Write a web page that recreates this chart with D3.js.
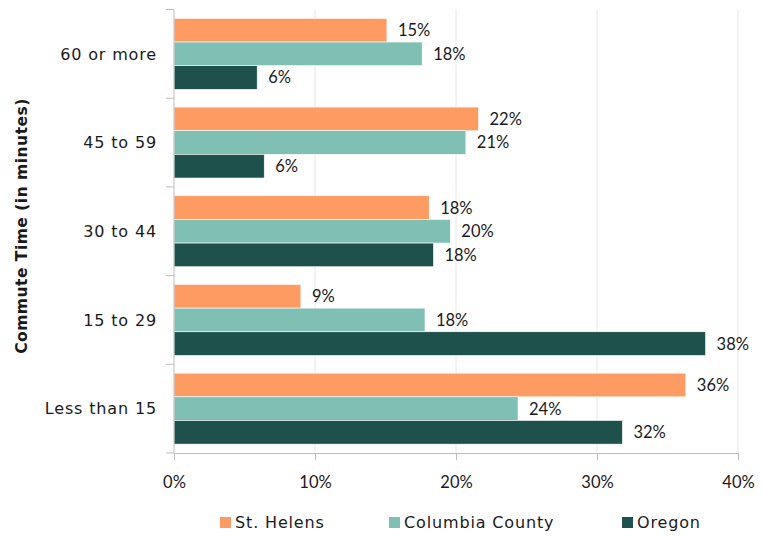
<!DOCTYPE html>
<html><head><meta charset="utf-8">
<script src="https://cdn.jsdelivr.net/npm/d3@7"></script>
<style>body{margin:0;background:#fff;font-family:Lato,"Noto Sans",sans-serif;}</style>
</head><body><svg id="c" width="763" height="537"></svg>
<script>
const categories = ["60 or more","45 to 59","30 to 44","15 to 29","Less than 15"];
const seriesNames = ["St. Helens","Columbia County","Oregon"];
const stHelens = [15.1, 21.6, 18.1, 9.0, 36.3];
const columbia = [17.6, 20.7, 19.6, 17.8, 24.4];
const oregon = [5.9, 6.4, 18.4, 37.7, 31.8];
const labelsSH = ["15%","22%","18%","9%","36%"];
const labelsCC = ["18%","21%","20%","18%","24%"];
const labelsOR = ["6%","6%","18%","38%","32%"];
const xTicks = [0,10,20,30,40];
const colors = ["#fe9b62","#80bfb4","#1e514c"];

const textFont = "'DejaVu Sans',sans-serif";
const numFont = "Lato,'Noto Sans',sans-serif";
const series = [stHelens, columbia, oregon];
const labels = [labelsSH, labelsCC, labelsOR];
const svg = d3.select("#c");
const x = d3.scaleLinear().domain([0,40]).range([174,738]);
const y = d3.scaleBand().domain(categories).range([9.5,453]).paddingInner(0.2).paddingOuter(0.1);
const y1 = d3.scaleBand().domain(d3.range(3)).range([0,y.bandwidth()]);
const step = y.step();

// gridlines
svg.append("g").selectAll("line").data(xTicks.slice(1)).join("line")
  .attr("x1",d=>x(d)).attr("x2",d=>x(d)).attr("y1",9.5).attr("y2",453)
  .attr("stroke","#e6e6e6").attr("stroke-width",1);

// bars
series.forEach((vals,si)=>{
  const g = svg.append("g");
  g.selectAll("rect").data(vals).join("rect")
    .attr("x",x(0)).attr("y",(d,i)=>y(categories[i])+y1(si))
    .attr("width",d=>x(d)-x(0)).attr("height",y1.bandwidth())
    .attr("fill",colors[si]).attr("stroke","#fff").attr("stroke-width",0.6);
  g.selectAll("text").data(vals).join("text")
    .attr("x",d=>x(d)+11).attr("y",(d,i)=>y(categories[i])+y1(si)+y1.bandwidth()/2)
    .attr("dy","0.36em").attr("font-size",16.5).attr("font-family",numFont).attr("fill","#1a1a1a")
    .text((d,i)=>labels[si][i]);
});

// y axis
const ya = svg.append("g");
ya.append("line").attr("x1",174).attr("x2",174).attr("y1",9.5).attr("y2",453).attr("stroke","#bdbdbd");
const bounds = categories.map(c=>y(c)-step*0.1).concat([453]);
ya.selectAll("line.t").data(bounds).join("line").attr("class","t")
  .attr("x1",166).attr("x2",174).attr("y1",d=>d).attr("y2",d=>d).attr("stroke","#bdbdbd");
ya.selectAll("text").data(categories).join("text")
  .attr("x",157).attr("y",d=>y(d)+y.bandwidth()/2).attr("dy","0.36em")
  .attr("text-anchor","end").attr("font-size",16).attr("letter-spacing",0.85)
  .attr("font-family",textFont).attr("fill","#1a1a1a").text(d=>d);

// x axis
const xa = svg.append("g").attr("transform","translate(0,453)");
xa.call(d3.axisBottom(x).tickValues(xTicks).tickFormat(d=>d+"%").tickSize(7).tickPadding(16));
xa.select(".domain").attr("stroke","#bdbdbd");
xa.selectAll(".tick line").attr("stroke","#bdbdbd");
xa.selectAll("text").attr("font-size",16.5).attr("fill","#1a1a1a").attr("font-family",numFont);

// axis title
svg.append("text").attr("transform","translate(21,226) rotate(-90)")
  .attr("text-anchor","middle").attr("dy","0.36em").attr("font-size",15.5).attr("font-weight","bold")
  .attr("letter-spacing",0.5).attr("font-family",textFont).attr("fill","#1a1a1a")
  .text("Commute Time (in minutes)");

// legend
const legX = [220, 389, 622];
const lg = svg.append("g");
seriesNames.forEach((n,i)=>{
  lg.append("rect").attr("x",legX[i]).attr("y",517).attr("width",11).attr("height",11).attr("fill",colors[i]);
  lg.append("text").attr("x",legX[i]+15).attr("y",522.5).attr("dy","0.36em")
    .attr("font-size",16).attr("letter-spacing",0.85).attr("font-family",textFont).attr("fill","#1a1a1a").text(n);
});
</script></body></html>
